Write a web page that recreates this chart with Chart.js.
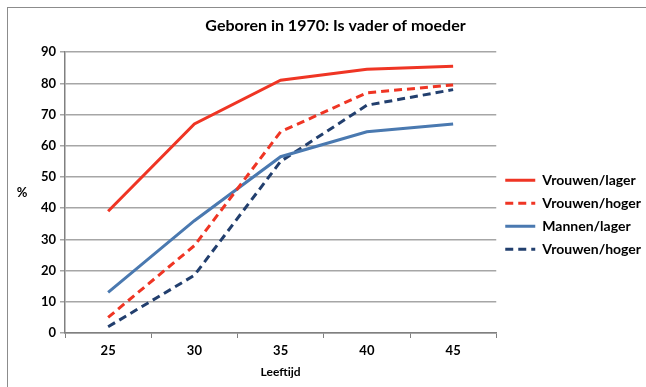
<!DOCTYPE html>
<html>
<head>
<meta charset="utf-8">
<script src="https://cdn.jsdelivr.net/npm/chart.js@4"></script>
<style>
    html, body { margin: 0; padding: 0; background: #fff; }
    #wrap { position: relative; width: 646px; height: 387px; overflow: hidden; }
    #frame { position: absolute; left: 7px; top: 7px; width: 700px; height: 450px; border: 1px solid #8c8c8c; }
    canvas { position: absolute; left: 0; top: 0; }
</style>
</head>
<body>
<div id="wrap">
    <div id="frame"></div>
    <canvas id="parentsChart" width="646" height="387"></canvas>
</div>
<script>
const ages = ["25", "30", "35", "40", "45"];
const vrouwenLager = [39, 67, 81, 84.5, 85.5];
const vrouwenHoger = [5, 28, 64.5, 77, 79.5];
const mannenLager = [13, 36, 56.5, 64.5, 67];
const mannenHoger = [2, 18.5, 55, 73, 78];
const yTicks = [0, 10, 20, 30, 40, 50, 60, 70, 80, 90];

const fontFamily = "Lato, 'Open Sans', sans-serif";

// "%" staat rechtop naast de y-as
const percentLabel = {
    id: "percentLabel",
    afterDraw(chart) {
        const ctx = chart.ctx;
        const y = chart.scales.y;
        ctx.save();
        ctx.font = "bold 13px " + fontFamily;
        ctx.fillStyle = "#000";
        ctx.textAlign = "center";
        ctx.textBaseline = "middle";
        ctx.fillText("%", 22, (y.top + y.bottom) / 2);
        ctx.restore();
    },
};

function lineSet(label, data, color, dash) {
    return {
        label: label,
        data: data,
        borderColor: color,
        backgroundColor: color,
        borderWidth: 3,
        borderDash: dash,
        pointRadius: 0,
        tension: 0,
        fill: false,
    };
}

new Chart(document.getElementById("parentsChart").getContext("2d"), {
    type: "line",
    data: {
        labels: ages,
        datasets: [
            lineSet("Vrouwen/lager", vrouwenLager, "#ef3524", []),
            lineSet("Vrouwen/hoger", vrouwenHoger, "#ef3524", [8, 5]),
            lineSet("Mannen/lager", mannenLager, "#4a79b0", []),
            lineSet("Vrouwen/hoger", mannenHoger, "#223f6e", [8, 5]),
        ],
    },
    plugins: [percentLabel],
    options: {
        responsive: false,
        animation: false,
        layout: { padding: { left: 20, right: -5, top: 0, bottom: 8 } },
        plugins: {
            title: {
                display: true,
                text: "Geboren in 1970: Is vader of moeder",
                color: "#000",
                font: { family: fontFamily, size: 16, weight: "bold" },
                padding: { top: 16, bottom: 17 },
            },
            legend: {
                position: "right",
                // lege titel schuift de items omlaag
                title: { display: true, text: " ", padding: { top: 36, bottom: 0 } },
                labels: {
                    usePointStyle: true,
                    pointStyleWidth: 30,
                    boxHeight: 3,
                    padding: 9,
                    color: "#000",
                    font: { family: fontFamily, size: 14, weight: "bold" },
                    generateLabels(chart) {
                        return chart.data.datasets.map((ds, i) => ({
                            text: ds.label,
                            datasetIndex: i,
                            fillStyle: ds.borderColor,
                            strokeStyle: ds.borderColor,
                            lineWidth: ds.borderWidth,
                            lineDash: ds.borderDash,
                            pointStyle: "line",
                            fontColor: "#000",
                            hidden: false,
                        }));
                    },
                },
            },
            tooltip: { enabled: false },
        },
        scales: {
            y: {
                min: 0,
                max: 90,
                afterBuildTicks(scale) {
                    scale.ticks = yTicks.map(v => ({ value: v }));
                },
                afterFit(scale) { scale.width = 45; },
                ticks: {
                    color: "#000",
                    padding: 4,
                    font: { family: fontFamily, size: 13, weight: "bold" },
                },
                grid: { color: "#a6a6a6", lineWidth: 1.5, tickLength: 5 },
                border: { color: "#808080", width: 1.5 },
            },
            x: {
                offset: true,
                ticks: {
                    color: "#000",
                    padding: 5,
                    font: { family: fontFamily, size: 13, weight: "bold" },
                },
                grid: { offset: true, drawOnChartArea: false, color: "#808080", lineWidth: 1, tickLength: 5 },
                border: { color: "#808080", width: 1.5 },
                title: {
                    display: true,
                    text: "Leeftijd",
                    color: "#000",
                    font: { family: fontFamily, size: 12, weight: "bold" },
                    padding: { top: 1, bottom: 0 },
                },
            },
        },
    },
});
</script>
</body>
</html>
